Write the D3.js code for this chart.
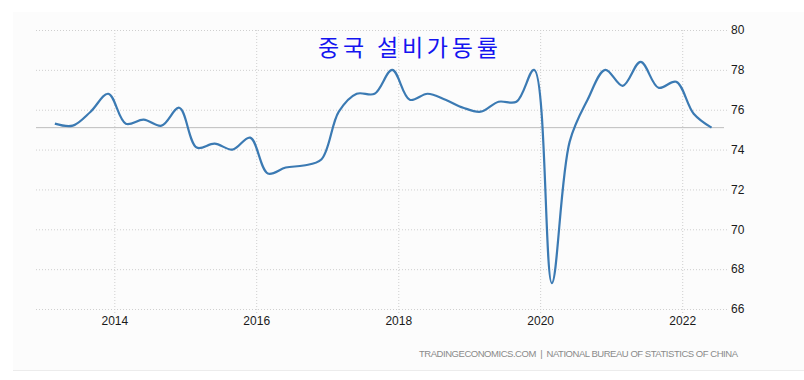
<!DOCTYPE html>
<html>
<head>
<meta charset="utf-8">
<script src="https://cdn.jsdelivr.net/npm/d3@7"></script>
<style>
  body { margin: 0; background: #fff; }
  svg { display: block; font-family: "Liberation Sans", Arial, sans-serif; }
  .grid line { stroke: #cfcfcf; stroke-dasharray: 1 2; }
  .grid .domain { display: none; }
  .y-axis text, .x-axis text { fill: #1a1a1a; font-size: 12px; }
  .source { fill: #8a8a8a; font-size: 9.5px; }
</style>
</head>
<body>
<svg id="chart"></svg>
<script>
// quarterly, 2013 Q1 .. 2022 Q2
const years = [2013, 2013, 2013, 2013, 2014, 2014, 2014, 2014, 2015, 2015, 2015, 2015,
  2016, 2016, 2016, 2016, 2017, 2017, 2017, 2017, 2018, 2018, 2018, 2018,
  2019, 2019, 2019, 2019, 2020, 2020, 2020, 2020, 2021, 2021, 2021, 2021, 2022, 2022];
const quarters = [1, 2, 3, 4, 1, 2, 3, 4, 1, 2, 3, 4, 1, 2, 3, 4, 1, 2, 3, 4,
  1, 2, 3, 4, 1, 2, 3, 4, 1, 2, 3, 4, 1, 2, 3, 4, 1, 2];
const utilization = [75.3, 75.2, 75.9, 76.8, 75.3, 75.5, 75.2, 76.1,
  74.1, 74.3, 74.0, 74.6, 72.8, 73.1, 73.2, 73.5,
  75.9, 76.8, 76.8, 78.0, 76.5, 76.8, 76.5, 76.1,
  75.9, 76.4, 76.4, 78.0, 67.3, 74.4, 76.5, 78.0,
  77.2, 78.4, 77.1, 77.4, 75.8, 75.1];
const yTicks = [66, 68, 70, 72, 74, 76, 78, 80];
const xTickYears = [2014, 2016, 2018, 2020, 2022];
const title = "중국 설비가동률";
const source = "TRADINGECONOMICS.COM  |  NATIONAL BUREAU OF STATISTICS OF CHINA";

const data = years.map((y, i) => ({
  date: new Date(y, (quarters[i] - 1) * 3 + 2, 1),
  value: utilization[i]
}));

const dimensions = {
  width: 804,
  height: 380,
  margin: { top: 30, right: 80, bottom: 71, left: 36 }
};
dimensions.boundedWidth = dimensions.width - dimensions.margin.left - dimensions.margin.right;
dimensions.boundedHeight = dimensions.height - dimensions.margin.top - dimensions.margin.bottom;

const wrapper = d3.select("#chart")
  .attr("width", dimensions.width)
  .attr("height", dimensions.height);

// faint panel behind chart
wrapper.append("rect")
  .attr("x", 13).attr("y", 12)
  .attr("width", dimensions.width - 13).attr("height", 358)
  .attr("fill", "#fcfcfc");
wrapper.append("line")
  .attr("x1", 13).attr("x2", dimensions.width)
  .attr("y1", 370.5).attr("y2", 370.5)
  .attr("stroke", "#ececec");

const bounds = wrapper.append("g")
  .attr("transform", `translate(${dimensions.margin.left},${dimensions.margin.top})`);

const xScale = d3.scaleTime()
  .domain([new Date(2012, 10, 24), new Date(2022, 7, 4)])
  .range([0, dimensions.boundedWidth]);

const yScale = d3.scaleLinear()
  .domain([66, 80])
  .range([dimensions.boundedHeight, 0]);

const xTickDates = xTickYears.map(y => new Date(y, 0, 1));

// grid
bounds.append("g")
  .attr("class", "grid")
  .call(d3.axisLeft(yScale).tickValues(yTicks).tickSize(-dimensions.boundedWidth - 4).tickFormat(""));

bounds.append("g")
  .attr("class", "grid")
  .attr("transform", `translate(0,${dimensions.boundedHeight})`)
  .call(d3.axisBottom(xScale)
    .tickValues(xTickDates)
    .tickSize(dimensions.boundedHeight + 5)
    .tickFormat(""))
  .selectAll(".tick line")
  .attr("transform", `translate(0,${-dimensions.boundedHeight})`);

// y axis labels on right
const yAxis = bounds.append("g")
  .attr("class", "y-axis")
  .attr("transform", `translate(${dimensions.boundedWidth},0)`)
  .call(d3.axisRight(yScale).tickValues(yTicks).tickSize(0).tickPadding(7));
yAxis.select(".domain").remove();

// x axis labels
const xAxis = bounds.append("g")
  .attr("class", "x-axis")
  .attr("transform", `translate(0,${dimensions.boundedHeight})`)
  .call(d3.axisBottom(xScale)
    .tickValues(xTickDates)
    .tickFormat(d3.timeFormat("%Y"))
    .tickSize(0).tickPadding(7));
xAxis.select(".domain").remove();

// last value reference line
const last = data[data.length - 1];
bounds.append("line")
  .attr("x1", 0)
  .attr("x2", dimensions.boundedWidth)
  .attr("y1", yScale(last.value))
  .attr("y2", yScale(last.value))
  .attr("stroke", "#bdbdbd")
  .attr("stroke-width", 1);

// series line
const lineGenerator = d3.line()
  .x(d => xScale(d.date))
  .y(d => yScale(d.value))
  .curve(d3.curveCatmullRom.alpha(0.5));

bounds.append("path")
  .datum(data)
  .attr("d", lineGenerator)
  .attr("fill", "none")
  .attr("stroke", "#3b7ab3")
  .attr("stroke-width", 2.2)
  .attr("stroke-linejoin", "round");

// title
wrapper.append("text")
  .attr("x", 318)
  .attr("y", 56)
  .attr("textLength", 180)
  .attr("lengthAdjust", "spacing")
  .style("font-family", "'Noto Sans CJK KR', sans-serif")
  .style("font-size", "23px")
  .attr("fill", "#1414f0")
  .text(title);

// source
wrapper.append("text")
  .attr("class", "source")
  .attr("x", 419)
  .attr("y", 357)
  .attr("textLength", 319)
  .attr("lengthAdjust", "spacing")
  .attr("xml:space", "preserve")
  .text(source);
</script>
</body>
</html>
